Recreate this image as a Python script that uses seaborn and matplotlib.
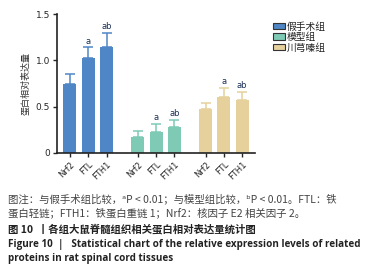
import numpy as np
import pandas as pd
import matplotlib
matplotlib.use('Agg')
import matplotlib.pyplot as plt
import seaborn as sns
from matplotlib.patches import Patch

groups = ['假手术组', '模型组', '川芎嗪组']
proteins = ['Nrf2', 'FTL', 'FTH1']
sham = [0.74, 1.03, 1.14]
model = [0.17, 0.225, 0.28]
tmp = [0.47, 0.605, 0.57]
sham_err = [0.11, 0.11, 0.16]
model_err = [0.07, 0.09, 0.075]
tmp_err = [0.07, 0.095, 0.085]
marks = ['', 'a', 'ab', '', 'a', 'ab', '', 'a', 'ab']
colors = ['#4f86c6', '#7ecab5', '#e6d19c']

sns.set_style('ticks')
plt.rcParams['font.family'] = ['Noto Sans CJK SC', 'DejaVu Sans']

pos = [0, 1, 2, 3.7, 4.7, 5.7, 7.4, 8.4, 9.4]
df = pd.DataFrame({
    'pos': pos,
    'val': sham + model + tmp,
    'err': sham_err + model_err + tmp_err,
    'group': [g for g in groups for _ in proteins],
    'protein': proteins * 3,
})

fig = plt.figure(figsize=(3.79, 2.77), dpi=100)
ax = fig.add_axes([0.150, 0.448, 0.523, 0.501])
sns.barplot(data=df, x='pos', y='val', hue='group', palette=colors,
            native_scale=True, dodge=False, width=0.71, legend=False,
            saturation=1, linewidth=0, ax=ax)

for i, r in df.iterrows():
    c = colors[groups.index(r['group'])]
    ax.errorbar(r['pos'], r['val'], yerr=[[0], [r['err']]], fmt='none',
                ecolor=c, elinewidth=1.1, capsize=3.5, capthick=1.1)
    if marks[i]:
        ax.text(r['pos'], r['val'] + r['err'] + 0.02, marks[i], ha='center',
                va='bottom', fontsize=6, color='#1b2f55', family='DejaVu Sans')

ax.set_xlim(-0.71, 10.1)
ax.set_ylim(0, 1.5)
ax.set_yticks([0, 0.5, 1.0, 1.5])
ax.set_yticklabels(['0', '0.5', '1.0', '1.5'], fontsize=6.5, family='DejaVu Sans')
ax.set_xticks(pos)
ax.set_xticklabels(df['protein'], rotation=45, ha='right', rotation_mode='anchor',
                   fontsize=6, family='DejaVu Sans')
ax.tick_params(length=3, width=1, pad=2)
ax.set_xlabel('')
ax.set_ylabel('蛋白相对表达量', fontsize=6.5, labelpad=4, color='#333333')
sns.despine(ax=ax)
for s in ['left', 'bottom']:
    ax.spines[s].set_linewidth(1.2)
    ax.spines[s].set_color('#222222')

handles = [Patch(facecolor=c, edgecolor='#333333', linewidth=0.8) for c in colors]
fig.legend(handles, groups, loc='upper left', bbox_to_anchor=(0.708, 0.94),
           frameon=False, fontsize=7, handlelength=1.2, handleheight=0.6,
           handletextpad=0.2, labelspacing=0.05, borderpad=0,
           labelcolor='#222222')

cap = ['图注：与假手术组比较，ᵃP < 0.01；与模型组比较，ᵇP < 0.01。FTL：铁',
       '蛋白轻链；FTH1：铁蛋白重链 1；Nrf2：核因子 E2 相关因子 2。']
fig.text(0.021, 1 - 199 / 277, cap[0], fontsize=7.5, color='#444444', va='center')
fig.text(0.021, 1 - 213 / 277, cap[1], fontsize=7.5, color='#444444', va='center')
fig.text(0.021, 1 - 229 / 277, '图 10  丨各组大鼠脊髓组织相关蛋白相对表达量统计图',
         fontsize=7.5, color='#222222', va='center', fontweight='bold')
fig.text(0.021, 1 - 244 / 277,
         'Figure 10  |   Statistical chart of the relative expression levels of related',
         fontsize=7.1, color='#222222', va='center', fontweight='bold',
         family=['Open Sans', 'DejaVu Sans'])
fig.text(0.021, 1 - 259 / 277, 'proteins in rat spinal cord tissues',
         fontsize=7.1, color='#222222', va='center', fontweight='bold',
         family=['Open Sans', 'DejaVu Sans'])

fig.savefig('out.png', dpi=100)
